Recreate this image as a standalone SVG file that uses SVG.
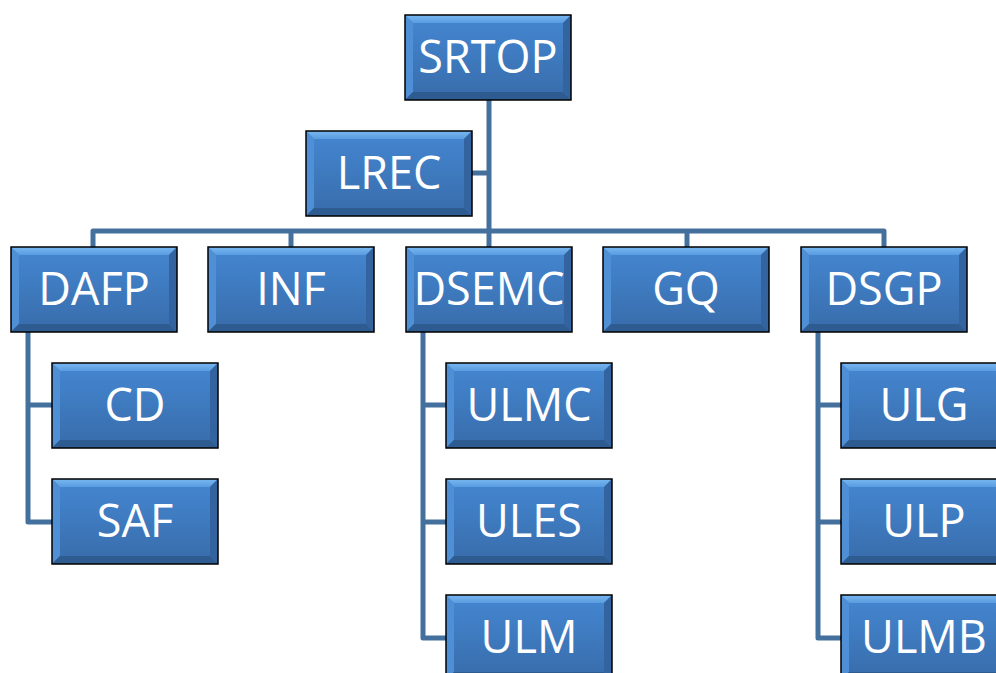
<svg xmlns="http://www.w3.org/2000/svg" xmlns:xlink="http://www.w3.org/1999/xlink" width="996" height="673" viewBox="0 0 996 673">
<style>
.lbl{font-family:"Open Sans","Liberation Sans",sans-serif;font-size:45px;fill:#ffffff;text-anchor:middle}
.con{fill:none;stroke:#44709e;stroke-width:5;stroke-linejoin:round;stroke-linecap:butt}
</style>
<defs>
<linearGradient id="face" x1="0" y1="0" x2="0" y2="1">
<stop offset="0" stop-color="#4487d2"/>
<stop offset="1" stop-color="#386caa"/>
</linearGradient>
<linearGradient id="topbev" x1="0" y1="0" x2="0" y2="1">
<stop offset="0" stop-color="#78b8f0"/>
<stop offset="1" stop-color="#5a9ce0"/>
</linearGradient>
<g id="box">
<rect width="166" height="85" fill="url(#face)"/>
<polygon points="0,0 166,0 158,8 8,8" fill="url(#topbev)"/>
<polygon points="0,0 8,8 8,77 0,85" fill="#4f8fd6"/>
<polygon points="0,85 8,77 158,77 166,85" fill="#2e5b90"/>
<polygon points="166,0 166,85 158,77 158,8" fill="#3364a0"/>
<rect width="166" height="85" fill="none" stroke="#000" stroke-width="1.5"/>
</g>
</defs>
<rect width="996" height="673" fill="#ffffff"/>
<g id="connectors">
<path class="con" d="M489,100 V247"/>
<path class="con" d="M472,173 H489"/>
<path class="con" d="M93,247 V231 H884 V247"/>
<path class="con" d="M291,231 V247"/>
<path class="con" d="M687,231 V247"/>
<path class="con" d="M28,332 V522 H52 M28,405 H52"/>
<path class="con" d="M423,332 V638 H446 M423,405 H446 M423,522 H446"/>
<path class="con" d="M818,332 V638 H841 M818,405 H841 M818,522 H841"/>
</g>
<g id="SRTOP"><use xlink:href="#box" x="405" y="15"/><text class="lbl" x="488" y="73">SRTOP</text></g>
<g id="LREC"><use xlink:href="#box" x="306" y="131"/><text class="lbl" x="389" y="189">LREC</text></g>
<g id="DAFP"><use xlink:href="#box" x="11" y="247"/><text class="lbl" x="94" y="305">DAFP</text></g>
<g id="INF"><use xlink:href="#box" x="208" y="247"/><text class="lbl" x="291" y="305">INF</text></g>
<g id="DSEMC"><use xlink:href="#box" x="406" y="247"/><text class="lbl" x="489" y="305">DSEMC</text></g>
<g id="GQ"><use xlink:href="#box" x="603" y="247"/><text class="lbl" x="686" y="305">GQ</text></g>
<g id="DSGP"><use xlink:href="#box" x="801" y="247"/><text class="lbl" x="884" y="305">DSGP</text></g>
<g id="CD"><use xlink:href="#box" x="52" y="363"/><text class="lbl" x="135" y="421">CD</text></g>
<g id="SAF"><use xlink:href="#box" x="52" y="479"/><text class="lbl" x="135" y="537">SAF</text></g>
<g id="ULMC"><use xlink:href="#box" x="446" y="363"/><text class="lbl" x="529" y="421">ULMC</text></g>
<g id="ULES"><use xlink:href="#box" x="446" y="479"/><text class="lbl" x="529" y="537">ULES</text></g>
<g id="ULM"><use xlink:href="#box" x="446" y="595"/><text class="lbl" x="529" y="653">ULM</text></g>
<g id="ULG"><use xlink:href="#box" x="841" y="363"/><text class="lbl" x="924" y="421">ULG</text></g>
<g id="ULP"><use xlink:href="#box" x="841" y="479"/><text class="lbl" x="924" y="537">ULP</text></g>
<g id="ULMB"><use xlink:href="#box" x="841" y="595"/><text class="lbl" x="924" y="653">ULMB</text></g>
</svg>
